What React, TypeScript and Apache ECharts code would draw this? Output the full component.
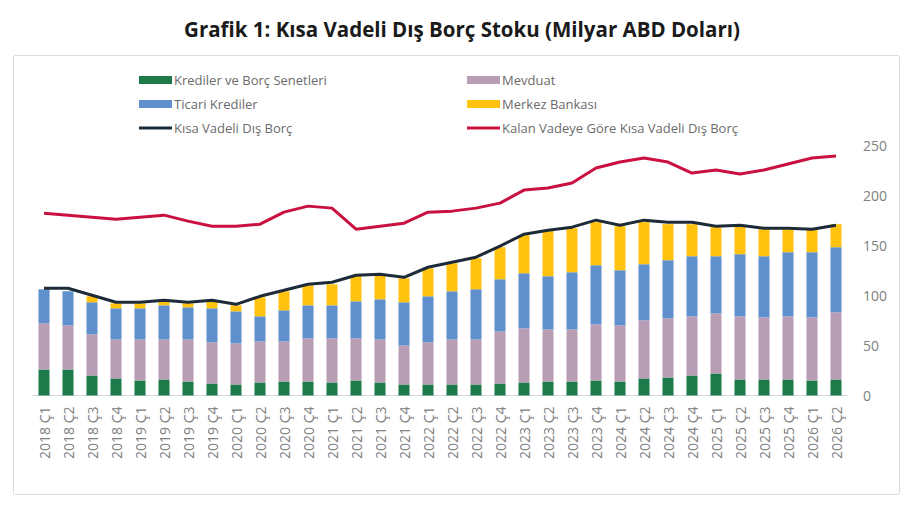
import React, { useEffect, useRef } from "react";
import * as echarts from "echarts";

const categories = [
  "2018 Ç1", "2018 Ç2", "2018 Ç3", "2018 Ç4",
  "2019 Ç1", "2019 Ç2", "2019 Ç3", "2019 Ç4",
  "2020 Ç1", "2020 Ç2", "2020 Ç3", "2020 Ç4",
  "2021 Ç1", "2021 Ç2", "2021 Ç3", "2021 Ç4",
  "2022 Ç1", "2022 Ç2", "2022 Ç3", "2022 Ç4",
  "2023 Ç1", "2023 Ç2", "2023 Ç3", "2023 Ç4",
  "2024 Ç1", "2024 Ç2", "2024 Ç3", "2024 Ç4",
  "2025 Ç1", "2025 Ç2", "2025 Ç3", "2025 Ç4",
  "2026 Ç1", "2026 Ç2",
];

const krediler = [26, 26, 20, 17, 15, 16, 14, 12, 11, 13, 14, 14, 13, 15, 13, 11, 11, 11, 11, 12, 13, 14, 14, 15, 14, 17, 18, 20, 22, 16, 16, 16, 15, 16];
const mevduat = [46, 44, 41, 39, 41, 40, 42, 41, 41, 41, 40, 43, 44, 42, 43, 39, 42, 45, 45, 52, 54, 52, 52, 56, 56, 58, 59, 59, 60, 63, 62, 63, 63, 67];
const ticari = [34, 34, 32, 31, 31, 34, 32, 34, 32, 25, 31, 33, 33, 37, 40, 43, 46, 48, 50, 52, 55, 53, 57, 59, 55, 56, 58, 60, 57, 62, 61, 64, 65, 65];
const merkez = [0, 0, 6, 5, 5, 4, 4, 7, 6, 19, 19, 20, 21, 25, 24, 24, 28, 28, 31, 32, 38, 45, 44, 43, 44, 42, 36, 32, 29, 28, 27, 23, 23, 23];
const kisaVadeli = [107, 107, 100, 93, 93, 95, 93, 95, 91, 99, 105, 111, 113, 120, 121, 118, 128, 133, 138, 149, 161, 165, 168, 175, 170, 175, 173, 173, 169, 170, 167, 167, 166, 170];
const kalanVade = [182, 180, 178, 176, 178, 180, 174, 169, 169, 171, 183, 189, 187, 166, 169, 172, 183, 184, 187, 192, 205, 207, 212, 227, 233, 237, 233, 222, 225, 221, 225, 231, 237, 239];

const yTicks = { min: 0, max: 250, interval: 50 };

const names = {
  kred: "Krediler ve Borç Senetleri",
  mev: "Mevduat",
  tic: "Ticari Krediler",
  mer: "Merkez Bankası",
  kisa: "Kısa Vadeli Dış Borç",
  kalan: "Kalan Vadeye Göre Kısa Vadeli Dış Borç",
};

const colors = {
  kred: "#1e7a4b",
  mev: "#b99db4",
  tic: "#5f8fcc",
  mer: "#ffc20e",
  kisa: "#1d2b38",
  kalan: "#c9113f",
};

const lineIcon = "path://M0,0L33,0L33,3L0,3Z";

export default function App() {
  const ref = useRef<HTMLDivElement>(null);

  useEffect(() => {
    if (!ref.current) return;
    const chart = echarts.init(ref.current, null, { renderer: "svg" });
    const legendText = {
      color: "#6b6b6b",
      fontSize: 13,
      fontFamily: "Open Sans",
      lineHeight: 14,
      padding: [0, 0, 0, -3],
    };
    const barSeries = (key: keyof typeof names, data: number[]) => ({
      name: names[key],
      type: "bar",
      stack: "total",
      data,
      barWidth: 11,
      itemStyle: { color: colors[key] },
    });
    chart.setOption({
      animation: false,
      title: {
        text: "Grafik 1: Kısa Vadeli Dış Borç Stoku (Milyar ABD Doları)",
        left: 457,
        textAlign: "center",
        top: 13,
        textStyle: {
          fontFamily: "Open Sans",
          fontWeight: "bold",
          fontSize: 20.5,
          color: "#1a1a1a",
        },
      },
      graphic: [
        {
          type: "rect",
          shape: { x: 13.5, y: 55.5, width: 886, height: 439, r: 2 },
          style: { fill: "none", stroke: "#d9d9d9", lineWidth: 1 },
          silent: true,
        },
      ],
      legend: [
        {
          left: 139,
          top: 73,
          padding: 0,
          orient: "vertical",
          itemWidth: 33,
          itemHeight: 8,
          itemGap: 10,
          data: [
            { name: names.kred, icon: "rect" },
            { name: names.tic, icon: "rect" },
            { name: names.kisa, icon: lineIcon },
          ],
          textStyle: legendText,
        },
        {
          left: 467,
          top: 73,
          padding: 0,
          orient: "vertical",
          itemWidth: 33,
          itemHeight: 8,
          itemGap: 10,
          data: [
            { name: names.mev, icon: "rect" },
            { name: names.mer, icon: "rect" },
            { name: names.kalan, icon: lineIcon },
          ],
          textStyle: legendText,
        },
      ],
      grid: { left: 32, right: 63, top: 145, bottom: 114.5, containLabel: false },
      xAxis: {
        type: "category",
        data: categories,
        axisLine: { show: true, lineStyle: { color: "#d9d9d9", width: 1 } },
        axisTick: { show: false },
        axisLabel: {
          rotate: 90,
          interval: 0,
          margin: 11,
          color: "#808080",
          fontSize: 14,
          fontFamily: "Open Sans",
        },
      },
      yAxis: {
        type: "value",
        position: "right",
        min: yTicks.min,
        max: yTicks.max,
        interval: yTicks.interval,
        splitLine: { show: false },
        axisLine: { show: false },
        axisTick: { show: false },
        axisLabel: {
          margin: 15,
          color: "#808080",
          fontSize: 14,
          fontFamily: "Open Sans",
        },
      },
      series: [
        barSeries("kred", krediler),
        barSeries("mev", mevduat),
        barSeries("tic", ticari),
        barSeries("mer", merkez),
        {
          name: names.kisa,
          type: "line",
          data: kisaVadeli,
          symbol: "none",
          lineStyle: { color: colors.kisa, width: 3 },
          itemStyle: { color: colors.kisa },
          z: 5,
        },
        {
          name: names.kalan,
          type: "line",
          data: kalanVade,
          symbol: "none",
          lineStyle: { color: colors.kalan, width: 3 },
          itemStyle: { color: colors.kalan },
          z: 5,
        },
      ],
    });
    return () => chart.dispose();
  }, []);

  return (
    <div
      ref={ref}
      style={{ position: "fixed", left: 0, top: 0, width: 911, height: 510, background: "#fff" }}
    />
  );
}
